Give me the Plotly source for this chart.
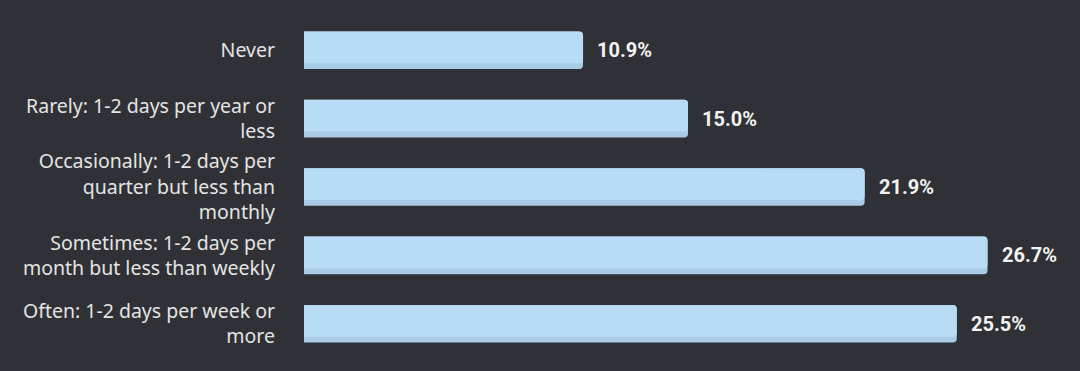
import plotly.graph_objects as go

categories = [
    "Never",
    "Rarely: 1-2 days per year or<br>less",
    "Occasionally: 1-2 days per<br>quarter but less than<br>monthly",
    "Sometimes: 1-2 days per<br>month but less than weekly",
    "Often: 1-2 days per week or<br>more",
]
values = [10.9, 15.0, 21.9, 26.7, 25.5]
value_labels = ["10.9%", "15.0%", "21.9%", "26.7%", "25.5%"]

BG = "#2f3136"
BAR = "#b8dcf5"
BAR_SHADE = "#a9cbe5"

fig = go.Figure()
fig.add_trace(go.Bar(
    x=values, y=categories, orientation="h",
    marker=dict(color=BAR_SHADE, line=dict(width=0)),
    width=0.55, offset=-0.275, hoverinfo="skip", showlegend=False,
))
fig.add_trace(go.Bar(
    x=values, y=categories, orientation="h",
    marker=dict(color=BAR, line=dict(width=0)),
    width=0.465, offset=-0.275, showlegend=False,
))

for v, c, t in zip(values, categories, value_labels):
    fig.add_annotation(
        x=v, y=c, text=t, showarrow=False, xanchor="left", xshift=12,
        font=dict(family="Roboto", size=20, color="#f2f2f2", weight="bold"),
    )

fig.update_layout(
    width=1080, height=371,
    paper_bgcolor=BG, plot_bgcolor=BG,
    margin=dict(l=304, r=8, t=16, b=13),
    barmode="overlay", barcornerradius=4,
    xaxis=dict(range=[0, 30], visible=False, showgrid=False, zeroline=False),
    yaxis=dict(
        autorange="reversed", showgrid=False, zeroline=False,
        ticks="", ticklabelstandoff=28,
        tickfont=dict(family="Noto Sans", size=19.5, color="#e4e4e4"),
    ),
    font=dict(family="Noto Sans"),
)

fig.write_html(
    "out.html",
    config={"displayModeBar": False},
    post_script="document.body.style.margin='0';document.body.style.background='#2f3136';",
)
